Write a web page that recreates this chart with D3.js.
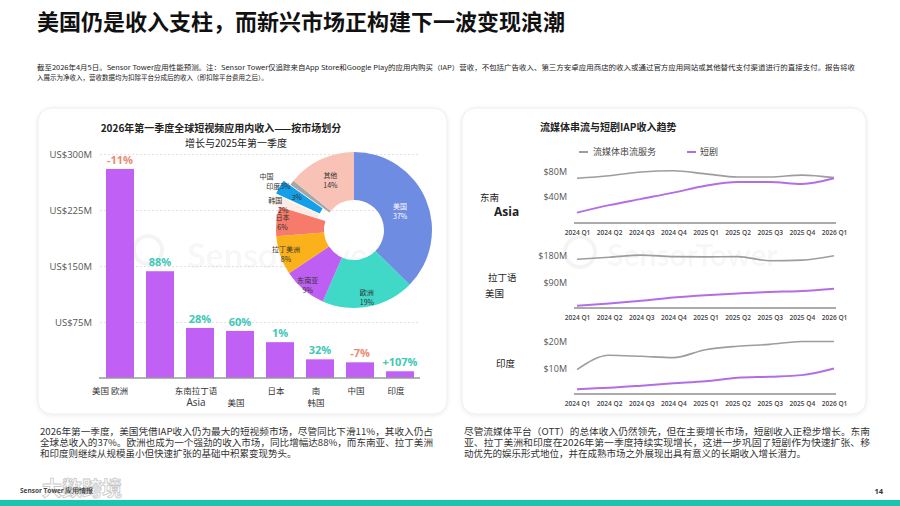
<!DOCTYPE html>
<html>
<head>
<meta charset="utf-8">
<script src="https://cdnjs.cloudflare.com/ajax/libs/d3/7.8.5/d3.min.js"></script>
<style>
  body { margin: 0; background: #fff; }
  svg { display: block; font-family: "Noto Sans CJK SC", "Noto Sans", sans-serif; }
</style>
</head>
<body>
<div id="chart"></div>
<script>
// ---- data ----

// bar chart: Q1 2026 short drama IAP revenue by market (US$M)
var barMarkets = ["美国", "欧洲", "东南亚", "拉丁美洲", "日本", "韩国", "中国", "印度"];
var barTickLines = [["美国 欧洲"], [""], ["东南拉丁语", "Asia"], ["", "美国"], ["日本"], ["南", "韩国"], ["中国"], ["印度"]];
var barRevenue = [280, 143, 67, 63, 48, 25, 21, 9];
var barGrowth = ["-11%", "88%", "28%", "60%", "1%", "32%", "-7%", "+107%"];
var barTicks = [75, 150, 225, 300];

// donut: share of global revenue
var pieMarkets = ["美国", "欧洲", "东南亚", "拉丁美洲", "日本", "韩国", "中国", "印度", "其他"];
var pieShare = [37, 19, 9, 8, 6, 2, 3, 1, 14];
var pieText = [["美国", "37%"], ["欧洲", "19%"], ["东南亚", "9%"], ["拉丁美洲", "8%"], ["日本", "6%"], ["韩国", "2%"], ["3%"], ["中国", "印度3%"], ["其他", "14%"]];

// line panels: streaming vs short drama IAP revenue (US$M)
var quarters = ["2024 Q1", "2024 Q2", "2024 Q3", "2024 Q4", "2025 Q1", "2025 Q2", "2025 Q3", "2025 Q4", "2026 Q1"];
var seaStreaming = [70, 74, 80, 82, 77, 72, 72, 75, 71];
var seaShortDrama = [15, 27, 37, 47, 58, 64, 64, 61, 70];
var latamStreaming = [169, 176, 183, 178, 177, 178, 164, 166, 181];
var latamShortDrama = [11, 19, 28, 39, 47, 53, 58, 61, 69];
var indiaStreaming = [9.6, 15, 14.6, 14.1, 17.1, 18.4, 19.1, 20.2, 20.2];
var indiaShortDrama = [2.2, 2.7, 3.5, 4.4, 5.2, 6.5, 6.9, 7.5, 10];
var seaTicks = [40, 80];
var latamTicks = [90, 180];
var indiaTicks = [10, 20];

var svgWidth = 900;
var svgHeight = 506;

var svg = d3.select("#chart")
  .append("svg")
  .attr("width", svgWidth)
  .attr("height", svgHeight);

var defs = svg.append("defs");
var shadow = defs.append("filter").attr("id", "shadow")
  .attr("x", "-5%").attr("y", "-5%").attr("width", "110%").attr("height", "110%");
shadow.append("feDropShadow")
  .attr("dx", 0).attr("dy", 1).attr("stdDeviation", 2)
  .attr("flood-color", "#000").attr("flood-opacity", 0.08);

// page title + note
svg.append("text")
  .attr("x", 37).attr("y", 30)
  .style("font-size", "22px").style("font-weight", "bold").attr("fill", "#111")
  .text("美国仍是收入支柱，而新兴市场正构建下一波变现浪潮");

svg.append("text")
  .attr("x", 37).attr("y", 70)
  .attr("textLength", 818).attr("lengthAdjust", "spacingAndGlyphs")
  .style("font-size", "6.5px").attr("fill", "#222")
  .text("截至2026年4月5日。Sensor Tower应用性能预测。注：Sensor Tower仅追踪来自App Store和Google Play的应用内购买（IAP）营收，不包括广告收入、第三方安卓应用商店的收入或通过官方应用网站或其他替代支付渠道进行的直接支付。报告将收");
svg.append("text")
  .attr("x", 37).attr("y", 80)
  .style("font-size", "6.5px").attr("fill", "#222")
  .text("入展示为净收入，营收数据均为扣除平台分成后的收入（即扣除平台费用之后）。");

// cards
svg.append("rect")
  .attr("x", 38).attr("y", 108).attr("width", 409).attr("height", 306)
  .attr("rx", 13).attr("fill", "#fff").attr("stroke", "#ededed")
  .attr("filter", "url(#shadow)");
svg.append("rect")
  .attr("x", 462).attr("y", 108).attr("width", 404).attr("height", 306)
  .attr("rx", 13).attr("fill", "#fff").attr("stroke", "#ededed")
  .attr("filter", "url(#shadow)");

// faint watermarks: [circle x, circle y, r, text x, baseline, size]
[[148, 250, 14, 187, 268, 34], [580, 252, 15, 607, 266, 30]].forEach(function (w) {
  svg.append("circle")
    .attr("cx", w[0]).attr("cy", w[1]).attr("r", w[2])
    .attr("fill", "none").attr("stroke", "#000").attr("stroke-opacity", 0.045).attr("stroke-width", 4);
  svg.append("text")
    .attr("x", w[3]).attr("y", w[4])
    .style("font-family", "Lato").style("font-size", w[5] + "px").style("font-weight", "bold")
    .attr("fill", "#000").attr("fill-opacity", 0.045)
    .text("SensorTower");
});

// ---------------- left card: bars ----------------

var chartGroup = svg.append("g");

chartGroup.append("text")
  .attr("x", 221).attr("y", 132)
  .attr("text-anchor", "middle")
  .style("font-size", "10px").style("font-weight", "bold").attr("fill", "#222")
  .text("2026年第一季度全球短视频应用内收入——按市场划分");
chartGroup.append("text")
  .attr("x", 236).attr("y", 147)
  .attr("text-anchor", "middle")
  .style("font-size", "10px").attr("fill", "#222")
  .text("增长与2025年第一季度");

var xBand = d3.scaleBand()
  .domain(barMarkets)
  .range([100, 420])
  .paddingInner(0.3)
  .paddingOuter(0.15);

var yBar = d3.scaleLinear()
  .domain([0, 300])
  .range([378, 154]);

var leftAxis = d3.axisLeft(yBar)
  .tickValues(barTicks)
  .tickSize(-320)
  .tickPadding(8)
  .tickFormat(d => "US$" + d + "M");

var yAxisG = chartGroup.append("g")
  .attr("transform", "translate(100, 0)")
  .call(leftAxis);
yAxisG.select(".domain").remove();
yAxisG.selectAll("line")
  .attr("stroke", "#e2e2e2").attr("stroke-dasharray", "2,2");
yAxisG.selectAll("text")
  .style("font-family", "'Open Sans', sans-serif")
  .style("font-size", "9.5px").attr("fill", "#555");

chartGroup.selectAll(".bar")
  .data(barMarkets)
  .enter()
  .append("rect")
  .attr("class", "bar")
  .attr("x", d => xBand(d))
  .attr("width", xBand.bandwidth())
  .attr("y", (d, i) => yBar(barRevenue[i]))
  .attr("height", (d, i) => yBar(0) - yBar(barRevenue[i]))
  .attr("fill", "#c160f4");

chartGroup.append("line")
  .attr("x1", 99).attr("x2", 420)
  .attr("y1", yBar(0)).attr("y2", yBar(0))
  .attr("stroke", "#999").attr("stroke-width", 1.5);

chartGroup.selectAll(".growth")
  .data(barMarkets)
  .enter()
  .append("text")
  .attr("class", "growth")
  .attr("x", d => xBand(d) + xBand.bandwidth() / 2)
  .attr("y", (d, i) => yBar(barRevenue[i]) - 5)
  .attr("text-anchor", "middle")
  .style("font-family", "'Open Sans', sans-serif")
  .style("font-size", "11px").style("font-weight", "bold")
  .attr("fill", (d, i) => barGrowth[i].charAt(0) === "-" ? "#ea8a74" : "#3fc8b6")
  .text((d, i) => barGrowth[i]);

var tickLabels = chartGroup.selectAll(".barTick")
  .data(barMarkets)
  .enter()
  .append("text")
  .attr("class", "barTick")
  .attr("text-anchor", "middle")
  .style("font-size", "8.5px").attr("fill", "#333");
tickLabels.each(function (d, i) {
  var t = d3.select(this);
  barTickLines[i].forEach(function (line, j) {
    t.append("tspan")
      .attr("x", xBand(d) + xBand.bandwidth() / 2 - 4 - (i === 0 ? 6 : 0))
      .attr("y", 394 + j * 12)
      .style("font-family", /^[A-Za-z]/.test(line) ? "'Open Sans', sans-serif" : null)
      .style("font-size", /^[A-Za-z]/.test(line) ? "10px" : null)
      .text(line);
  });
});

// ---------------- donut ----------------

var pieColors = ["#6f8ce3", "#40d8c6", "#bf5ef2", "#fbb11a", "#f77b6b", "#fdebe5", "#149fe8", "#a6a6a6", "#f8c2b7"];
var pieCenter = [354, 230];
var exploded = ["韩国", "中国"];

var pie = d3.pie().sort(null).value(d => d);
var arcs = pie(pieShare);
var arc = d3.arc().innerRadius(30).outerRadius(78);

var pieGroup = svg.append("g")
  .attr("transform", `translate(${pieCenter[0]}, ${pieCenter[1]})`);

function midOffset(d, r) {
  var a = (d.startAngle + d.endAngle) / 2;
  return [Math.sin(a) * r, -Math.cos(a) * r];
}

pieGroup.selectAll("path")
  .data(arcs)
  .enter()
  .append("path")
  .attr("d", arc)
  .attr("fill", (d, i) => pieColors[i])
  .attr("transform", function (d, i) {
    if (exploded.indexOf(pieMarkets[i]) < 0) return null;
    var o = midOffset(d, 8);
    return `translate(${o[0]}, ${o[1]})`;
  });

// label radius / nudges per slice
var labelR = { "美国": 50, "欧洲": 68, "其他": 55, "韩国": 80, "中国": 66, "印度": 90 };
var labelNudge = { "韩国": [[-4, 4], [4, 4]], "印度": [[-16, 5], [-4, 5]] };

pieGroup.selectAll(".pieLabel")
  .data(arcs)
  .enter()
  .append("text")
  .attr("class", "pieLabel")
  .attr("text-anchor", "middle")
  .style("font-size", "7px")
  .attr("fill", (d, i) => i === 0 ? "#fff" : "#333")
  .each(function (d, i) {
    var r = labelR[pieMarkets[i]] || 72;
    var p = midOffset(d, r);
    var lines = pieText[i];
    var nudge = labelNudge[pieMarkets[i]];
    var t = d3.select(this);
    lines.forEach(function (line, j) {
      var n = nudge ? nudge[j] : [0, 0];
      t.append("tspan")
        .attr("x", p[0] + n[0])
        .attr("y", p[1] + 3 + n[1] + (j - (lines.length - 1) / 2) * 10)
        .text(line);
    });
  });

// ---------------- right card: lines ----------------

var lineGroup = svg.append("g");

lineGroup.append("text")
  .attr("x", 540).attr("y", 131)
  .style("font-size", "10px").style("font-weight", "bold").attr("fill", "#222")
  .text("流媒体串流与短剧IAP收入趋势");

var streamColor = "#9d9d9d";
var dramaColor = "#b36ee6";

lineGroup.append("line")
  .attr("x1", 579).attr("x2", 588).attr("y1", 152).attr("y2", 152)
  .attr("stroke", streamColor).attr("stroke-width", 2);
lineGroup.append("text")
  .attr("x", 593).attr("y", 155)
  .style("font-size", "9px").attr("fill", "#444")
  .text("流媒体串流服务");
lineGroup.append("line")
  .attr("x1", 687).attr("x2", 696).attr("y1", 152).attr("y2", 152)
  .attr("stroke", dramaColor).attr("stroke-width", 2);
lineGroup.append("text")
  .attr("x", 700).attr("y", 155)
  .style("font-size", "9px").attr("fill", "#444")
  .text("短剧");

var panels = [
  { streaming: seaStreaming, drama: seaShortDrama, ticks: seaTicks, yZero: 222, yTop: 172, base: 223 },
  { streaming: latamStreaming, drama: latamShortDrama, ticks: latamTicks, yZero: 309, yTop: 256, base: 308 },
  { streaming: indiaStreaming, drama: indiaShortDrama, ticks: indiaTicks, yZero: 395, yTop: 342, base: 394 }
];

var xQ = d3.scalePoint()
  .domain(quarters)
  .range([577, 834]);

panels.forEach(function (p) {
  var y = d3.scaleLinear()
    .domain([0, d3.max(p.ticks)])
    .range([p.yZero, p.yTop]);

  var g = lineGroup.append("g");

  var ax = g.append("g")
    .attr("transform", "translate(567, 0)")
    .call(d3.axisLeft(y).tickValues(p.ticks).tickSize(0).tickPadding(0)
      .tickFormat(d => "$" + d + "M"));
  ax.select(".domain").remove();
  ax.selectAll("text")
    .style("font-family", "'Open Sans', sans-serif")
    .style("font-size", "9px").attr("fill", "#555");

  g.append("line")
    .attr("x1", 574).attr("x2", 836)
    .attr("y1", p.base).attr("y2", p.base)
    .attr("stroke", "#8f8f8f").attr("stroke-width", 1.6);

  var bx = g.append("g")
    .attr("transform", `translate(0, ${p.base})`)
    .call(d3.axisBottom(xQ).tickSize(0).tickPadding(7));
  bx.select(".domain").remove();
  bx.selectAll("text")
    .style("font-family", "'Open Sans', sans-serif")
    .style("font-size", "6.6px").style("font-weight", "600").attr("fill", "#444");

  var line = d3.line()
    .x((d, i) => xQ(quarters[i]))
    .y(d => y(d))
    .curve(d3.curveMonotoneX);

  g.append("path")
    .attr("d", line(p.streaming))
    .attr("fill", "none").attr("stroke", streamColor).attr("stroke-width", 1.6);
  g.append("path")
    .attr("d", line(p.drama))
    .attr("fill", "none").attr("stroke", dramaColor).attr("stroke-width", 2);
});

// panel names
lineGroup.append("text").attr("x", 480).attr("y", 201)
  .style("font-size", "9.5px").attr("fill", "#222").text("东南");
lineGroup.append("text").attr("x", 494).attr("y", 216)
  .style("font-family", "'Open Sans', sans-serif")
  .style("font-size", "12px").style("font-weight", "bold").attr("fill", "#222").text("Asia");
lineGroup.append("text").attr("x", 488).attr("y", 281)
  .style("font-size", "9.5px").attr("fill", "#222").text("拉丁语");
lineGroup.append("text").attr("x", 485).attr("y", 297)
  .style("font-size", "9.5px").attr("fill", "#222").text("美国");
lineGroup.append("text").attr("x", 496).attr("y", 367)
  .style("font-size", "9.5px").attr("fill", "#222").text("印度");

// ---------------- commentary ----------------

var leftText = [
  "2026年第一季度，美国凭借IAP收入仍为最大的短视频市场，尽管同比下滑11%，其收入仍占",
  "全球总收入的37%。欧洲也成为一个强劲的收入市场，同比增幅达88%，而东南亚、拉丁美洲",
  "和印度则继续从规模虽小但快速扩张的基础中积累变现势头。"
];
var rightText = [
  "尽管流媒体平台（OTT）的总体收入仍然领先，但在主要增长市场，短剧收入正稳步增长。东南",
  "亚、拉丁美洲和印度在2026年第一季度持续实现增长，这进一步巩固了短剧作为快速扩张、移",
  "动优先的娱乐形式地位，并在成熟市场之外展现出具有意义的长期收入增长潜力。"
];

leftText.forEach(function (t, i) {
  svg.append("text")
    .attr("x", 40).attr("y", 435 + i * 11)
    .attr("textLength", i < 2 ? 393 : null)
    .attr("lengthAdjust", "spacingAndGlyphs")
    .style("font-size", "9.5px").attr("fill", "#333")
    .text(t);
});
rightText.forEach(function (t, i) {
  svg.append("text")
    .attr("x", 464).attr("y", 435 + i * 11)
    .attr("textLength", i < 2 ? 406 : null)
    .attr("lengthAdjust", "spacingAndGlyphs")
    .style("font-size", "9.5px").attr("fill", "#333")
    .text(t);
});

// footer
svg.append("text")
  .attr("x", 883).attr("y", 494)
  .attr("text-anchor", "end")
  .style("font-family", "'Open Sans', sans-serif")
  .style("font-size", "7.5px").style("font-weight", "bold").attr("fill", "#333")
  .text("14");

svg.append("text")
  .attr("x", 42).attr("y", 496)
  .style("font-size", "20px").style("font-weight", "bold")
  .attr("fill", "#fff").attr("stroke", "#c8c8c8").attr("stroke-width", 0.8)
  .text("大数跨境");
svg.append("text")
  .attr("x", 20).attr("y", 493)
  .style("font-family", "'Open Sans', sans-serif")
  .style("font-size", "6.5px").style("font-weight", "bold").attr("fill", "#444")
  .text("Sensor Tower 应用情报");

svg.append("rect")
  .attr("x", 0).attr("y", 500).attr("width", svgWidth).attr("height", 6)
  .attr("fill", "#1cc3ad");
</script>
</body>
</html>
